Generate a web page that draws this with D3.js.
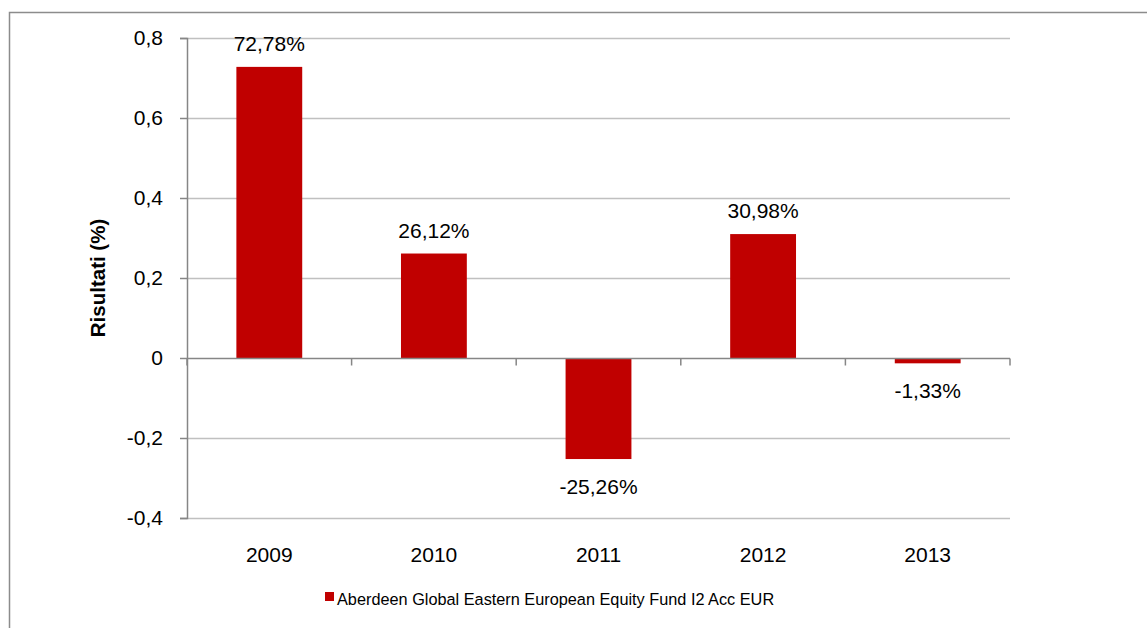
<!DOCTYPE html>
<html lang="it">
<head>
  <meta charset="UTF-8">
  <title>Risultati</title>
  <script src="https://d3js.org/d3.v7.min.js"></script>
  <style>
    body { margin: 0; background: #fff; }
    text { font-family: "Liberation Sans", Arial, sans-serif; fill: #000; }
  </style>
</head>
<body>
  <svg width="1147" height="628"></svg>

  <script>
    const years = ["2009", "2010", "2011", "2012", "2013"];
    const values = [0.7278, 0.2612, -0.2526, 0.3098, -0.0133];
    const valueLabels = ["72,78%", "26,12%", "-25,26%", "30,98%", "-1,33%"];
    const yTicks = [-0.4, -0.2, 0, 0.2, 0.4, 0.6, 0.8];
    const yTickLabels = ["-0,4", "-0,2", "0", "0,2", "0,4", "0,6", "0,8"];
    const seriesName = "Aberdeen Global Eastern European Equity Fund I2 Acc EUR";

    const svg = d3.select("svg");

    // outer chart frame
    svg.append("rect")
      .attr("x", 9.5).attr("y", 12.5)
      .attr("width", 1160).attr("height", 640)
      .attr("fill", "none").attr("stroke", "#8c8c8c").attr("stroke-width", 1.5);

    const plot = {left: 187, right: 1010, top: 38, bottom: 518};

    const x = d3.scaleBand().domain(years).range([plot.left, plot.right]).paddingInner(0.6).paddingOuter(0.3);
    const xb = d3.scaleBand().domain(years).range([plot.left, plot.right]);
    const y = d3.scaleLinear().domain([-0.4, 0.8]).range([plot.bottom, plot.top]);

    // gridlines
    svg.append("g").selectAll("line").data(yTicks.filter(d => d !== 0)).enter().append("line")
      .attr("x1", plot.left).attr("x2", plot.right)
      .attr("y1", d => Math.round(y(d)) + 0.5).attr("y2", d => Math.round(y(d)) + 0.5)
      .attr("stroke", "#c0c0c0").attr("stroke-width", 1.5);

    // y axis
    const yAxis = svg.append("g")
      .attr("transform", `translate(${plot.left},0)`)
      .call(d3.axisLeft(y).tickValues(yTicks).tickSize(7).tickPadding(17)
        .tickFormat((d, i) => yTickLabels[i]));
    yAxis.select(".domain").attr("stroke", "#868686").attr("stroke-width", 1.5);
    yAxis.selectAll(".tick line").attr("stroke", "#868686").attr("stroke-width", 1.5);
    yAxis.selectAll(".tick text").style("font-size", "21px").attr("fill", "#000");

    // bars
    svg.append("g").selectAll("rect").data(values).enter().append("rect")
      .attr("x", (d, i) => x(years[i]))
      .attr("width", x.bandwidth())
      .attr("y", d => y(Math.max(0, d)))
      .attr("height", d => Math.abs(y(d) - y(0)))
      .attr("fill", "#c00000");

    // zero axis with category boundary ticks
    const y0 = Math.round(y(0)) + 0.5;
    svg.append("line")
      .attr("x1", plot.left).attr("x2", plot.right).attr("y1", y0).attr("y2", y0)
      .attr("stroke", "#868686").attr("stroke-width", 1.5);
    const bounds = years.map(d => xb(d)).concat([plot.right]);
    svg.append("g").selectAll("line").data(bounds).enter().append("line")
      .attr("x1", d => d).attr("x2", d => d)
      .attr("y1", y0).attr("y2", y0 + 7)
      .attr("stroke", "#868686").attr("stroke-width", 1.5);

    // value labels
    svg.append("g").selectAll("text").data(values).enter().append("text")
      .attr("x", (d, i) => x(years[i]) + x.bandwidth() / 2)
      .attr("y", d => d >= 0 ? y(d) - 16 : y(d) + 35)
      .attr("text-anchor", "middle")
      .style("font-size", "21px")
      .text((d, i) => valueLabels[i]);

    // category labels
    svg.append("g").selectAll("text").data(years).enter().append("text")
      .attr("x", d => xb(d) + xb.bandwidth() / 2)
      .attr("y", 562)
      .attr("text-anchor", "middle")
      .style("font-size", "21px")
      .text(d => d);

    // axis title
    svg.append("text")
      .attr("transform", `translate(105,${(plot.top + plot.bottom) / 2}) rotate(-90)`)
      .attr("text-anchor", "middle")
      .style("font-size", "20.5px").style("font-weight", "bold")
      .text("Risultati (%)");

    // legend
    const legend = svg.append("g").attr("transform", "translate(325,592)");
    legend.append("rect").attr("width", 9).attr("height", 9).attr("fill", "#c00000");
    legend.append("text")
      .attr("x", 12).attr("y", 13)
      .style("font-size", "16.3px")
      .text(seriesName);
  </script>
</body>
</html>
